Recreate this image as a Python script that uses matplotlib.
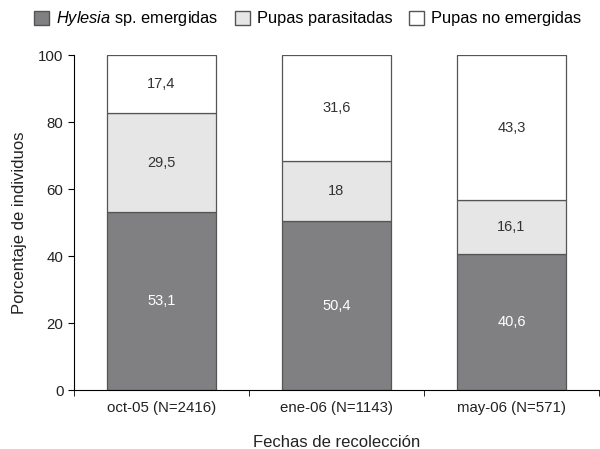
import numpy as np
import matplotlib.pyplot as plt
from matplotlib.patches import Patch

plt.rcParams['font.family'] = ['Liberation Sans', 'DejaVu Sans']
plt.rcParams['mathtext.fontset'] = 'custom'
plt.rcParams['mathtext.it'] = 'Liberation Sans:italic'
plt.rcParams['mathtext.rm'] = 'Liberation Sans'

categorias = ['oct-05 (N=2416)', 'ene-06 (N=1143)', 'may-06 (N=571)']
emergidas = [53.1, 50.4, 40.6]
parasitadas = [29.5, 18, 16.1]
no_emergidas = [17.4, 31.6, 43.3]
etiquetas_emergidas = ['53,1', '50,4', '40,6']
etiquetas_parasitadas = ['29,5', '18', '16,1']
etiquetas_no_emergidas = ['17,4', '31,6', '43,3']

c_osc = '#808083'
c_cla = '#e6e6e6'
c_borde = '#555555'

fig = plt.figure(figsize=(6, 4.49), dpi=100)
ax = fig.add_axes([0.1233, 0.1314, 0.875, 0.7461])

x = np.arange(len(categorias))
w = 0.62
ax.bar(x, emergidas, w, color=c_osc, edgecolor=c_borde, linewidth=0.9)
ax.bar(x, parasitadas, w, bottom=emergidas, color=c_cla, edgecolor=c_borde, linewidth=0.9)
base3 = np.array(emergidas) + np.array(parasitadas)
ax.bar(x, no_emergidas, w, bottom=base3, color='white', edgecolor=c_borde, linewidth=0.9)

for i in range(len(x)):
    ax.text(x[i], emergidas[i] / 2, etiquetas_emergidas[i], ha='center', va='center',
            color='white', fontsize=10.5)
    ax.text(x[i], emergidas[i] + parasitadas[i] / 2, etiquetas_parasitadas[i],
            ha='center', va='center', color='#333333', fontsize=10.5)
    ax.text(x[i], base3[i] + no_emergidas[i] / 2, etiquetas_no_emergidas[i],
            ha='center', va='center', color='#333333', fontsize=10.5)

ax.set_xlim(-0.5, 2.5)
ax.set_ylim(0, 100)
ax.set_yticks([0, 20, 40, 60, 80, 100])
ax.set_xticks(x)
ax.set_xticklabels(categorias, fontsize=10.8, color='#222222')
ax.set_xticks([-0.5, 0.5, 1.5, 2.5], minor=True)
ax.tick_params(axis='x', which='major', length=0, pad=8)
ax.tick_params(axis='x', which='minor', length=4, direction='out')
ax.tick_params(axis='y', labelsize=10.8, labelcolor='#222222', length=4)
ax.spines['top'].set_visible(False)
ax.spines['right'].set_visible(False)
ax.set_ylabel('Porcentaje de individuos', fontsize=12, color='#222222', labelpad=8)
ax.set_xlabel('Fechas de recolección', fontsize=12, color='#222222', labelpad=14)

handles = [Patch(facecolor=c_osc, edgecolor=c_borde),
           Patch(facecolor=c_cla, edgecolor=c_borde),
           Patch(facecolor='white', edgecolor=c_borde)]
labels = [r'$\it{Hylesia}$ sp. emergidas', 'Pupas parasitadas', 'Pupas no emergidas']
fig.legend(handles, labels, loc='upper center', bbox_to_anchor=(0.513, 1.012), ncol=3,
           frameon=False, fontsize=11.8, handlelength=0.9, handleheight=0.9,
           handletextpad=0.45, columnspacing=1.0)

fig.savefig('out.png', dpi=100)
